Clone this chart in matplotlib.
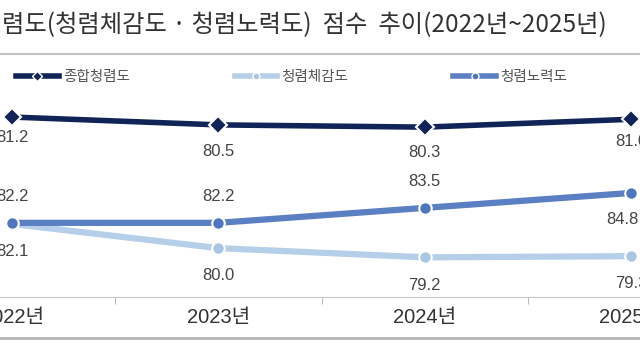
import matplotlib.pyplot as plt
from matplotlib.lines import Line2D

plt.rcParams['font.family'] = ['Liberation Sans', 'Noto Sans CJK KR', 'DejaVu Sans']

years = ['2022년', '2023년', '2024년', '2025년']
total = [81.2, 80.5, 80.3, 81.0]          # 종합청렴도
perceived = [82.1, 80.0, 79.2, 79.3]      # 청렴체감도
effort = [82.2, 82.2, 83.5, 84.8]         # 청렴노력도

navy = '#102458'
mid_blue = '#5b7fc3'
light_blue = '#b5cfe8'
text_color = '#444444'

x = list(range(len(years)))

fig = plt.figure(figsize=(6.4, 3.6), dpi=100)

# chart is cropped on both sides, so axes run past the figure edges
left, width = -91 / 640, 825 / 640
ax_top = fig.add_axes([left, (360 - 178) / 360, width, 80 / 360])
ax_bot = fig.add_axes([left, (360 - 297) / 360, width, 119 / 360])

# upper panel: 종합청렴도
ax_top.set_facecolor('#f3f3f3')
ax_top.plot(x, total, color=navy, lw=4, marker='D', ms=9, mec='white', mew=1.5)
top_offsets = [-15, -19, -18, -16]
for xi, v, off in zip(x, total, top_offsets):
    ax_top.annotate(f'{v:.1f}', (xi, v), xytext=(0, off), textcoords='offset points',
                    ha='center', va='center', fontsize=12, color=text_color)
ax_top.set_xlim(-0.5, 3.5)
ax_top.set_ylim(75.76, 82.9)
ax_top.axis('off')

# lower panel: 청렴체감도 / 청렴노력도
ax_bot.plot(x, perceived, color=light_blue, lw=4.5, marker='o', ms=9,
            mfc='#a9c7e5', mec='white', mew=1.5)
ax_bot.plot(x, effort, color=mid_blue, lw=4.5, marker='o', ms=9,
            mfc='#4f75bf', mec='white', mew=1.5)
for xi, v in zip(x, perceived):
    ax_bot.annotate(f'{v:.1f}', (xi, v), xytext=(0, -20), textcoords='offset points',
                    ha='center', va='center', fontsize=12, color=text_color)
effort_offsets = [19, 19, 19, -19]
for xi, v, off in zip(x, effort, effort_offsets):
    ax_bot.annotate(f'{v:.1f}', (xi, v), xytext=(-6 if off < 0 else 0, off),
                    textcoords='offset points', ha='center', va='center',
                    fontsize=12, color=text_color)

ax_bot.set_xlim(-0.5, 3.5)
ax_bot.set_ylim(75.75, 86.1)
ax_bot.set_yticks([])
for s in ['left', 'right', 'top']:
    ax_bot.spines[s].set_visible(False)
ax_bot.spines['bottom'].set_color('#c8c8c8')
ax_bot.set_xticks(x)
ax_bot.set_xticklabels(years, fontsize=14.5, color='#333333')
ax_bot.set_xticks([0.5, 1.5, 2.5], minor=True)
ax_bot.tick_params(axis='x', which='major', length=0, pad=8)
ax_bot.tick_params(axis='x', which='minor', length=5, color='#aaaaaa')

# legend
handles = [
    Line2D([], [], color=navy, lw=4, marker='D', ms=5, mec='white', mew=1),
    Line2D([], [], color=light_blue, lw=4, marker='o', ms=5, mfc='#a9c7e5', mec='white', mew=1),
    Line2D([], [], color=mid_blue, lw=4, marker='o', ms=5, mfc='#4f75bf', mec='white', mew=1),
]
fig.legend(handles, ['종합청렴도', '청렴체감도', '청렴노력도'], ncol=3,
           loc='center left', bbox_to_anchor=(9 / 640, 1 - 77 / 360), frameon=False,
           fontsize=10.5, handlelength=2.9, handletextpad=0.3, columnspacing=7.2,
           labelcolor='#555555', borderaxespad=0, borderpad=0.5)

# title, separator and bottom rule
fig.text(2 / 640, 1 - 25 / 360, '렴도(청렴체감도 · 청렴노력도)  점수  추이(2022년~2025년)',
         fontsize=17.5, color='#333333', va='center', ha='left',
         family=['Noto Sans CJK KR', 'DejaVu Sans'])
fig.add_artist(Line2D([0, 1], [1 - 54 / 360] * 2, transform=fig.transFigure,
                      color='#c0c0c0', lw=1.5))
fig.add_artist(Line2D([0, 1], [1 - 338 / 360] * 2, transform=fig.transFigure,
                      color='#b5b5b5', lw=2))

fig.savefig('out.png', dpi=100)
